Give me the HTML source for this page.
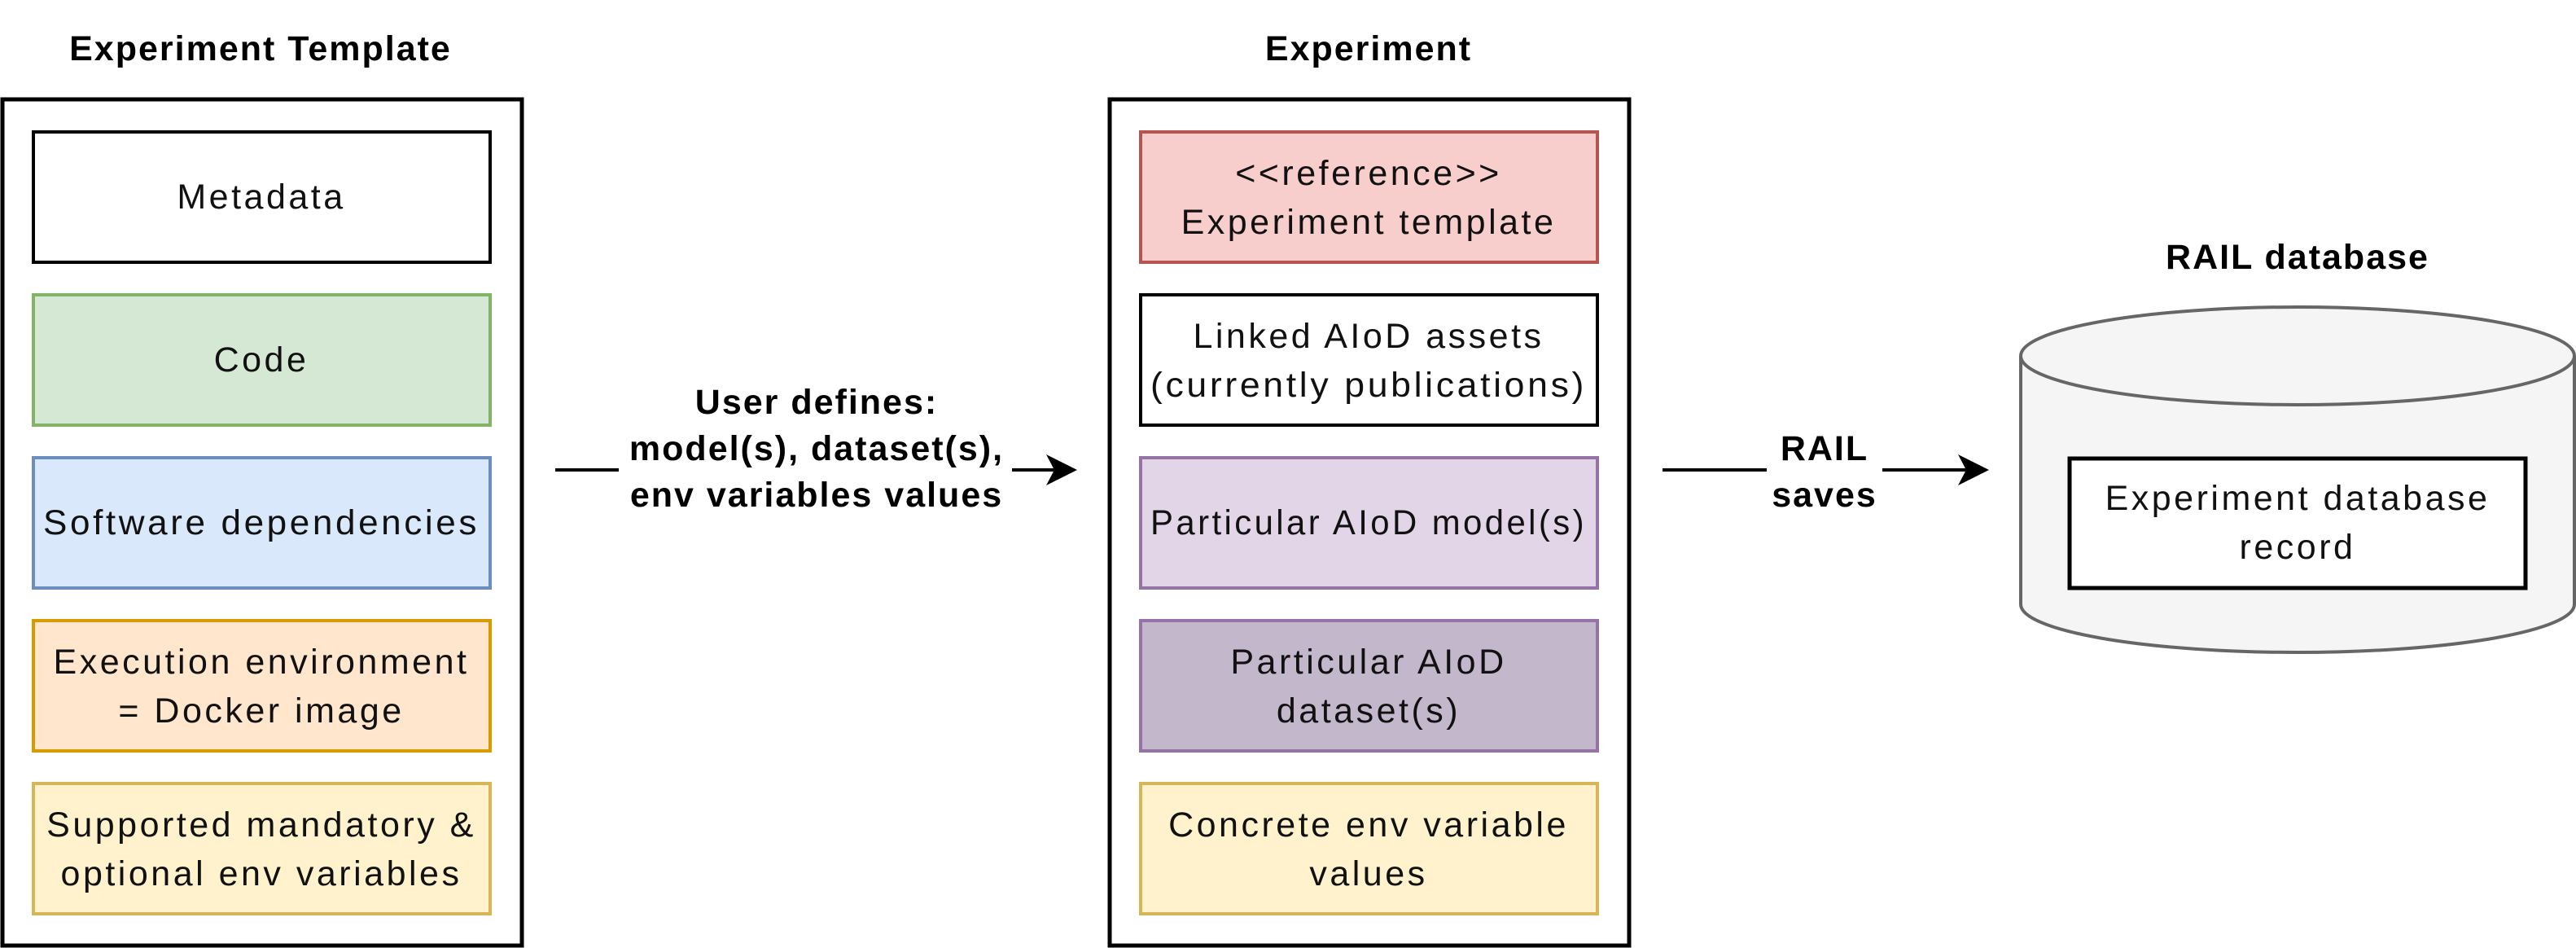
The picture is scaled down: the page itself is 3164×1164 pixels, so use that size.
<!DOCTYPE html>
<html><head><meta charset="utf-8"><style>
html,body{margin:0;padding:0;background:#fff;}
svg{display:block;}
text{font-family:"Liberation Sans",sans-serif;}
.t{font-size:43px;fill:#111;letter-spacing:3.5px;}
.b{font-size:43px;font-weight:bold;fill:#000;letter-spacing:2px;}
</style></head><body>
<svg width="3164" height="1164" viewBox="0 0 3164 1164" xmlns="http://www.w3.org/2000/svg">
<!-- Titles -->
<text class="b" x="320" y="74" text-anchor="middle">Experiment Template</text>
<text class="b" x="1681" y="74" text-anchor="middle">Experiment</text>
<text class="b" x="2822" y="330" text-anchor="middle">RAIL database</text>

<!-- Left container -->
<rect x="3" y="122" width="638" height="1039" fill="#fff" stroke="#000" stroke-width="5"/>
<rect x="41" y="162" width="561" height="160" fill="#fff" stroke="#000" stroke-width="4"/>
<text class="t" x="321" y="256" text-anchor="middle">Metadata</text>
<rect x="41" y="362" width="561" height="160" fill="#d5e8d4" stroke="#82b366" stroke-width="4"/>
<text class="t" x="321" y="456" text-anchor="middle">Code</text>
<rect x="41" y="562" width="561" height="160" fill="#dae8fc" stroke="#6c8ebf" stroke-width="4"/>
<text class="t" x="321" y="656" text-anchor="middle" textLength="536" lengthAdjust="spacingAndGlyphs">Software dependencies</text>
<rect x="41" y="762" width="561" height="160" fill="#ffe6cc" stroke="#d79b00" stroke-width="4"/>
<text class="t" x="321" y="827" text-anchor="middle">Execution environment</text>
<text class="t" x="321" y="887" text-anchor="middle">= Docker image</text>
<rect x="41" y="962" width="561" height="160" fill="#fff2cc" stroke="#d6b656" stroke-width="4"/>
<text class="t" x="321" y="1027" text-anchor="middle">Supported mandatory &amp;</text>
<text class="t" x="321" y="1087" text-anchor="middle">optional env variables</text>

<!-- Middle container -->
<rect x="1363" y="122" width="638" height="1039" fill="#fff" stroke="#000" stroke-width="5"/>
<rect x="1401" y="162" width="561" height="160" fill="#f8cecc" stroke="#b85450" stroke-width="4"/>
<text class="t" x="1681" y="227" text-anchor="middle">&lt;&lt;reference&gt;&gt;</text>
<text class="t" x="1681" y="287" text-anchor="middle">Experiment template</text>
<rect x="1401" y="362" width="561" height="160" fill="#fff" stroke="#000" stroke-width="4"/>
<text class="t" x="1681" y="427" text-anchor="middle">Linked AIoD assets</text>
<text class="t" x="1681" y="487" text-anchor="middle" textLength="536" lengthAdjust="spacingAndGlyphs">(currently publications)</text>
<rect x="1401" y="562" width="561" height="160" fill="#e1d5e7" stroke="#9673a6" stroke-width="4"/>
<text class="t" x="1681" y="656" text-anchor="middle" textLength="536" lengthAdjust="spacingAndGlyphs">Particular AIoD model(s)</text>
<rect x="1401" y="762" width="561" height="160" fill="#c3b7cb" stroke="#9673a6" stroke-width="4"/>
<text class="t" x="1681" y="827" text-anchor="middle">Particular AIoD</text>
<text class="t" x="1681" y="887" text-anchor="middle">dataset(s)</text>
<rect x="1401" y="962" width="561" height="160" fill="#fff2cc" stroke="#d6b656" stroke-width="4"/>
<text class="t" x="1681" y="1027" text-anchor="middle">Concrete env variable</text>
<text class="t" x="1681" y="1087" text-anchor="middle">values</text>

<!-- Arrow 1 -->
<line x1="682" y1="577" x2="760" y2="577" stroke="#000" stroke-width="4"/>
<line x1="1243" y1="577" x2="1300" y2="577" stroke="#000" stroke-width="4"/>
<polygon points="1323,577 1285,558 1295,577 1285,596" fill="#000"/>
<text class="b" x="1003" y="508" text-anchor="middle">User defines:</text>
<text class="b" x="1003" y="565" text-anchor="middle">model(s), dataset(s),</text>
<text class="b" x="1003" y="622" text-anchor="middle">env variables values</text>

<!-- Arrow 2 -->
<line x1="2042" y1="577" x2="2170" y2="577" stroke="#000" stroke-width="4"/>
<line x1="2312" y1="577" x2="2420" y2="577" stroke="#000" stroke-width="4"/>
<polygon points="2443,577 2405,558 2415,577 2405,596" fill="#000"/>
<text class="b" x="2241" y="565" text-anchor="middle">RAIL</text>
<text class="b" x="2241" y="622" text-anchor="middle">saves</text>

<!-- Cylinder -->
<path d="M2482,437 L2482,742 A340,59 0 0 0 3162,742 L3162,437" fill="#f5f5f5" stroke="#666" stroke-width="4"/>
<ellipse cx="2822" cy="437" rx="340" ry="60" fill="#f5f5f5" stroke="#666" stroke-width="4"/>
<rect x="2542" y="563" width="560" height="159" fill="#fff" stroke="#000" stroke-width="5"/>
<text class="t" x="2822" y="626" text-anchor="middle">Experiment database</text>
<text class="t" x="2822" y="686" text-anchor="middle">record</text>
</svg>
</body></html>
